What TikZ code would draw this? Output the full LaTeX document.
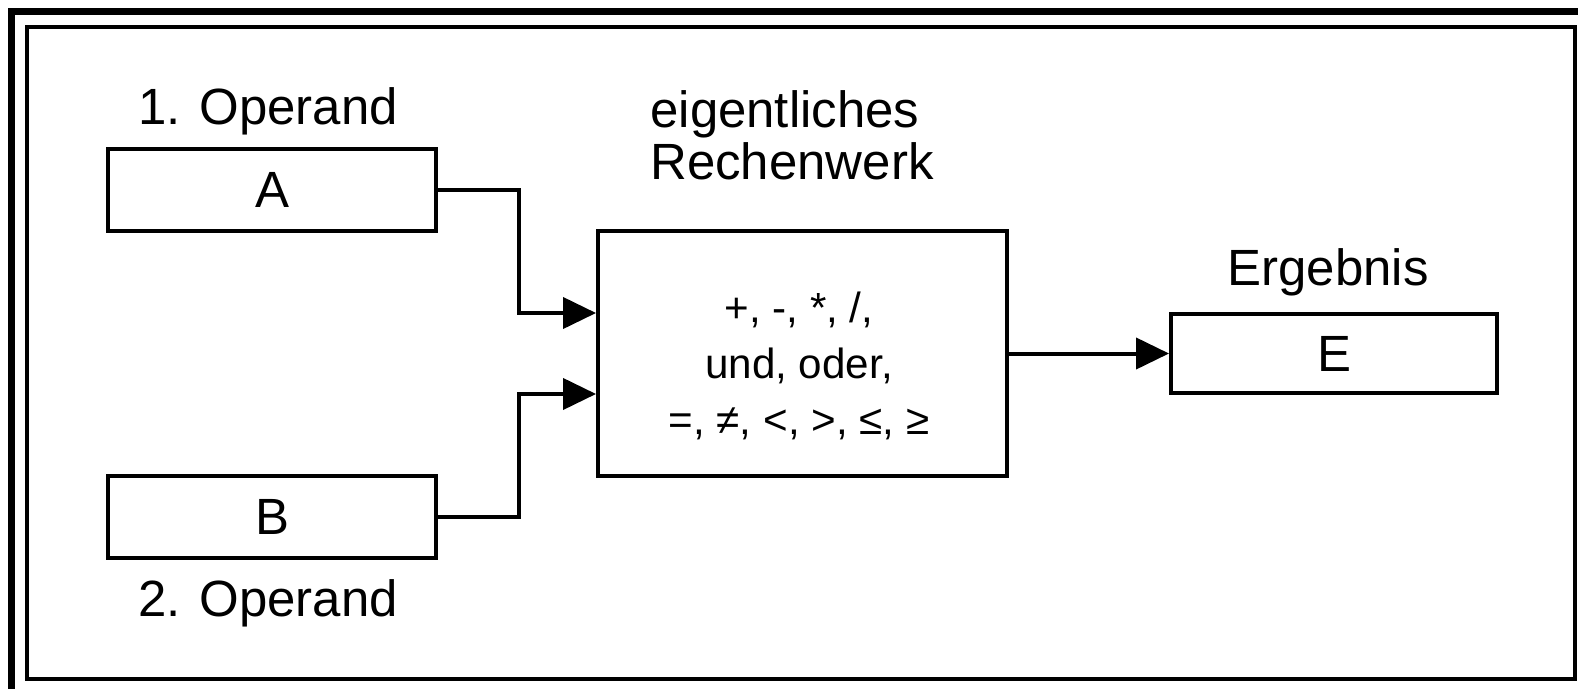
\documentclass[tikz,border=0pt]{standalone}
\usepackage{fontspec}
\setmainfont{Liberation Sans}
\usetikzlibrary{arrows.meta}

\begin{document}
\begin{tikzpicture}[x=0.02cm,y=-0.02cm,
    unit/.style={rectangle,draw,line width=0.08cm,inner sep=0pt,
        font=\fontsize{29}{32}\selectfont},
    lbl/.style={inner sep=0pt,font=\fontsize{29}{32}\selectfont},
    conn/.style={line width=0.08cm,-{Triangle[length=0.66cm,width=0.62cm]}}]
  \useasboundingbox (0,0) rectangle (1578,689);
  % frames
  \draw[line width=0.14cm] (11.5,11.5) rectangle (1585,693);
  \draw[line width=0.08cm] (27,27) rectangle (1575,679);
  % operands, unit and result
  \node[unit,minimum width=6.56cm,minimum height=1.64cm] (opA) at (272,190) {A};
  \node[unit,minimum width=6.56cm,minimum height=1.64cm] (opB) at (272,517) {B};
  \node[unit,minimum width=8.18cm,minimum height=4.9cm] (rw) at (802.5,353.5) {};
  \node[unit,minimum width=6.52cm,minimum height=1.6cm] (erg) at (1334,353.5) {E};
  \node[align=center,inner sep=0pt,font=\fontsize{24}{32}\selectfont] (ops) at (799,366)
    {+, -, *, /,\\und, oder,\\=, ≠, <, >, ≤, ≥};
  % labels
  \node[lbl,anchor=base] (labA) at (268,125) {1. Operand};
  \node[lbl,anchor=base] (labB) at (268,616) {2. Operand};
  \node[lbl,anchor=base west,align=left,font=\fontsize{29}{30}\selectfont] (labRw) at (650,180)
    {eigentliches\\Rechenwerk};
  \node[lbl,anchor=base] (labE) at (1328,285) {Ergebnis};
  % connections
  \draw[conn] (opA.east) -- ++(81,0) |- ([yshift=0.81cm]rw.west);
  \draw[conn] (opB.east) -- ++(81,0) |- ([yshift=-0.81cm]rw.west);
  \draw[conn] (rw.east) -- (erg.west);
\end{tikzpicture}
\end{document}
